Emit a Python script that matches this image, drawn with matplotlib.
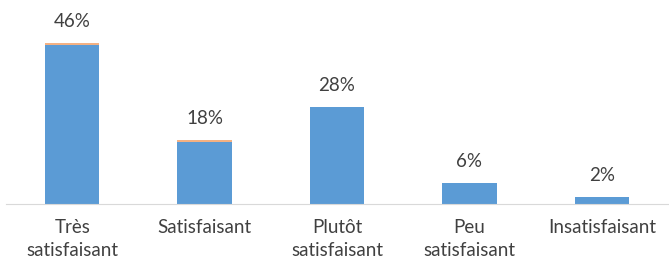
import matplotlib
matplotlib.use("Agg")
import matplotlib.pyplot as plt
import numpy as np

categories = ["Très\nsatisfaisant", "Satisfaisant", "Plutôt\nsatisfaisant", "Peu\nsatisfaisant", "Insatisfaisant"]
values = [46, 18, 28, 6, 2]
# thin second series visible on top of the first two bars
extra = [0.5, 0.5, 0, 0, 0]

plt.rcParams["font.family"] = ["Lato", "DejaVu Sans"]

fig = plt.figure(figsize=(6.69, 2.65), dpi=100)
ax = fig.add_axes([6 / 669, 61 / 265, 662 / 669, 204 / 265])

x = np.arange(len(categories))
ax.bar(x, values, width=0.41, color="#5b9bd5")
ax.bar(x, extra, width=0.41, bottom=values, color="#f4b183")

for xi, v, e in zip(x, values, extra):
    ax.text(xi, v + e + 3.8, f"{v}%", ha="center", va="bottom", fontsize=13.5, color="#404040")

ax.set_xlim(-0.5, len(categories) - 0.5)
ax.set_ylim(0, 59)
ax.set_xticks(x)
ax.set_xticklabels(categories, fontsize=13.5, color="#404040", linespacing=1.4)
ax.tick_params(axis="x", length=0, pad=11)
ax.set_yticks([])
for s in ["top", "right", "left"]:
    ax.spines[s].set_visible(False)
ax.spines["bottom"].set_color("#d9d9d9")

fig.savefig("out.png", dpi=100)
